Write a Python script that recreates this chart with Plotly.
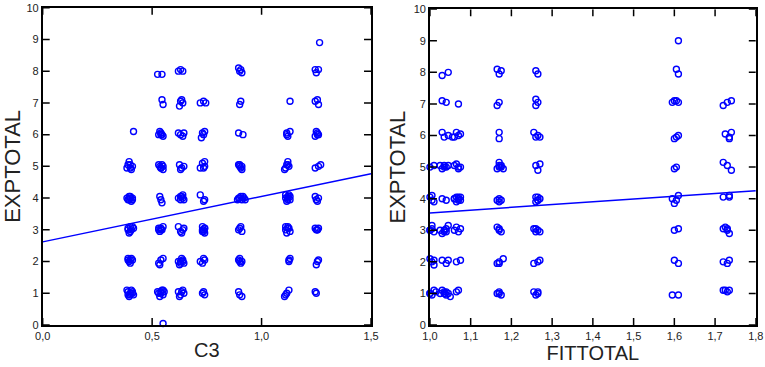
import plotly.graph_objects as go

# ---- Left panel: C3 vs EXPTOTAL (one line per cluster) ----
c3_x = [
    0.39, 0.40, 0.41, 0.395, 0.405, 0.385, 0.415, 0.40, 0.41, 0.39,
    0.39, 0.40, 0.405, 0.395, 0.41, 0.40, 0.39,
    0.39, 0.40, 0.41, 0.395, 0.405, 0.415, 0.40, 0.39,
    0.39, 0.40, 0.41, 0.395, 0.405, 0.385, 0.40, 0.41, 0.395,
    0.39, 0.40, 0.41, 0.395, 0.405, 0.385, 0.40,
    0.415,
    0.55,
    0.53, 0.54, 0.55, 0.535, 0.545, 0.555, 0.525, 0.54, 0.55,
    0.53, 0.54, 0.55, 0.535,
    0.53, 0.54, 0.55, 0.535, 0.545, 0.53, 0.54,
    0.535, 0.54, 0.545,
    0.53, 0.54, 0.55, 0.535, 0.545, 0.55, 0.54,
    0.53, 0.54, 0.55, 0.535, 0.545, 0.54,
    0.545, 0.55,
    0.525, 0.545,
    0.62, 0.63, 0.64, 0.625, 0.645, 0.635,
    0.62, 0.63, 0.64, 0.635, 0.645, 0.625, 0.63, 0.64,
    0.62, 0.63, 0.64, 0.635, 0.645,
    0.62, 0.63, 0.64, 0.635, 0.645, 0.63, 0.64,
    0.625, 0.635, 0.645, 0.63,
    0.62, 0.63, 0.64, 0.645,
    0.625, 0.635, 0.64, 0.63,
    0.62, 0.63, 0.64,
    0.73, 0.74, 0.735,
    0.72, 0.73, 0.74, 0.735,
    0.73, 0.735, 0.74, 0.73, 0.74, 0.735, 0.73, 0.74,
    0.72, 0.735, 0.74,
    0.72, 0.73, 0.74, 0.735, 0.74,
    0.725, 0.73, 0.74, 0.735,
    0.72, 0.735, 0.745,
    0.895, 0.90, 0.91,
    0.895, 0.905, 0.91, 0.90, 0.90,
    0.895, 0.905, 0.91, 0.90,
    0.89, 0.90, 0.91, 0.92, 0.925, 0.905, 0.895, 0.915,
    0.895, 0.905, 0.91, 0.90, 0.90, 0.91,
    0.895, 0.915,
    0.90, 0.905,
    0.895, 0.905, 0.91, 0.90,
    1.105, 1.115, 1.125, 1.11,
    1.125, 1.13, 1.125,
    1.11, 1.12, 1.13, 1.115, 1.125, 1.12, 1.11,
    1.11, 1.12, 1.13, 1.115, 1.125, 1.12, 1.11, 1.13, 1.12,
    1.105, 1.115, 1.125, 1.12, 1.11, 1.12,
    1.115, 1.13, 1.12, 1.115,
    1.13,
    1.245, 1.25,
    1.255, 1.26, 1.25,
    1.245, 1.255, 1.26, 1.25, 1.255,
    1.245, 1.25, 1.26, 1.255,
    1.245, 1.27, 1.26,
    1.245, 1.255, 1.26, 1.25, 1.255,
    1.245, 1.255, 1.26,
    1.245, 1.26, 1.25,
    1.265,
]
c3_y = [
    1.05, 0.95, 1.0, 0.9, 1.1, 1.1, 0.95, 1.0, 1.05, 0.95,
    2.05, 1.95, 2.1, 2.0, 2.05, 2.05, 2.1,
    3.05, 2.95, 3.1, 2.9, 3.0, 3.05, 3.1, 3.0,
    3.95, 4.0, 3.95, 4.05, 3.9, 4.0, 4.05, 4.0, 3.95,
    5.05, 4.95, 5.0, 5.15, 4.9, 4.95, 5.05,
    6.1,
    0.05,
    1.0, 1.05, 0.95, 0.9, 1.1, 1.05, 1.05, 1.0, 1.1,
    1.95, 2.05, 2.1, 1.9,
    3.0, 3.05, 3.1, 2.95, 3.0, 3.05, 3.0,
    4.05, 3.95, 3.85,
    5.05, 4.95, 4.9, 5.0, 5.05, 5.0, 4.95,
    6.0, 6.05, 5.95, 6.1, 6.0, 6.0,
    7.1, 6.95,
    7.9, 7.9,
    1.05, 0.95, 1.1, 0.9, 1.0, 1.05,
    2.0, 1.95, 2.05, 2.1, 1.95, 1.9, 2.0, 2.0,
    3.1, 2.95, 3.0, 2.9, 3.05,
    4.0, 3.95, 4.1, 4.05, 3.95, 4.05, 4.0,
    5.05, 4.95, 5.0, 4.9,
    6.05, 6.0, 5.95, 6.05,
    6.9, 7.1, 7.0, 7.05,
    8.0, 8.05, 8.0,
    1.0, 0.95, 1.05,
    2.0, 1.95, 2.05, 2.1,
    3.0, 2.95, 3.05, 3.1, 2.9, 3.0, 2.95, 3.05,
    4.1, 3.9, 3.95,
    4.95, 5.1, 5.0, 4.95, 5.15,
    5.9, 6.05, 6.1, 6.0,
    7.0, 7.05, 7.0,
    1.05, 0.95, 0.9,
    2.05, 1.95, 2.0, 2.1, 2.0,
    3.0, 3.1, 2.95, 3.05,
    3.95, 4.0, 3.95, 4.0, 3.95, 4.05, 4.0, 4.05,
    5.05, 4.95, 4.9, 5.0, 5.05, 5.0,
    6.05, 6.0,
    6.95, 7.05,
    8.1, 8.05, 7.95, 8.0,
    0.9, 1.0, 1.1, 0.95,
    2.05, 2.1, 2.0,
    3.0, 3.1, 2.95, 2.9, 3.05, 3.05, 3.1,
    4.0, 4.05, 3.95, 3.9, 4.1, 4.0, 4.1, 4.05, 3.95,
    4.9, 5.05, 5.0, 5.15, 4.95, 5.05,
    6.05, 6.1, 5.95, 6.0,
    7.05,
    1.05, 1.0,
    2.0, 2.05, 1.9,
    3.05, 3.0, 3.05, 3.0, 3.0,
    4.05, 3.95, 4.0, 3.9,
    4.95, 5.05, 5.0,
    5.95, 6.05, 6.0, 6.1, 6.0,
    7.05, 7.1, 6.95,
    8.05, 8.05, 7.95,
    8.9,
]
c3_fit_x = [0.0, 1.5]
c3_fit_y = [2.62, 4.77]

# ---- Right panel: FITTOTAL vs EXPTOTAL (one line per cluster) ----
fit_x = [
    1.0, 1.01, 1.005, 1.015, 1.0,
    1.0, 1.005, 1.01, 1.01,
    1.0, 1.005, 1.01, 1.005, 1.0,
    1.0, 1.005, 1.01, 1.005,
    1.0, 1.01,
    1.025, 1.035, 1.04, 1.045, 1.03, 1.05, 1.035, 1.04,
    1.03, 1.04, 1.045,
    1.025, 1.035, 1.04, 1.045, 1.03, 1.035, 1.04,
    1.03, 1.04,
    1.025, 1.035, 1.04, 1.045, 1.03, 1.035,
    1.03, 1.035, 1.045, 1.055,
    1.03, 1.04,
    1.03, 1.045,
    1.065, 1.07,
    1.065, 1.075,
    1.06, 1.07, 1.075, 1.065,
    1.06, 1.07, 1.075, 1.065, 1.07, 1.065, 1.075, 1.07, 1.06,
    1.06, 1.07, 1.075, 1.065, 1.07,
    1.06, 1.07, 1.075, 1.065,
    1.07,
    1.165, 1.175, 1.17, 1.17,
    1.165, 1.17, 1.18, 1.17,
    1.165, 1.17, 1.175, 1.17,
    1.165, 1.175, 1.17, 1.17,
    1.165, 1.17, 1.175, 1.18, 1.17, 1.17, 1.175,
    1.17, 1.17,
    1.165, 1.17,
    1.165, 1.175, 1.17,
    1.255, 1.265, 1.26, 1.265,
    1.255, 1.265, 1.27,
    1.255, 1.265, 1.26, 1.27, 1.26,
    1.26, 1.265, 1.27, 1.26, 1.265, 1.265,
    1.26, 1.265, 1.27,
    1.255, 1.265, 1.27, 1.26,
    1.26, 1.26, 1.265,
    1.26, 1.265,
    1.595, 1.61,
    1.60, 1.61,
    1.60, 1.61,
    1.595, 1.605, 1.61, 1.60,
    1.60, 1.605,
    1.60, 1.61, 1.605,
    1.595, 1.605, 1.61, 1.60,
    1.605, 1.61,
    1.61,
    1.72, 1.73, 1.735, 1.725,
    1.72, 1.73, 1.735,
    1.72, 1.73, 1.735, 1.725, 1.73,
    1.72, 1.735, 1.735,
    1.72, 1.73, 1.74,
    1.725, 1.735, 1.74, 1.735,
    1.72, 1.73, 1.74,
]
fit_y = [
    1.0, 1.1, 0.95, 1.05, 1.0,
    2.1, 2.0, 1.9, 2.05,
    3.0, 3.05, 2.95, 3.15, 3.0,
    4.05, 3.95, 3.9, 4.1,
    5.0, 5.05,
    1.0, 1.05, 0.95, 1.0, 1.1, 0.9, 1.0, 1.05,
    2.05, 1.95, 2.05,
    3.0, 2.95, 3.05, 3.15, 2.9, 3.0, 2.95,
    4.0, 3.95,
    5.05, 5.05, 5.0, 5.05, 4.95, 5.0,
    6.1, 5.95, 6.0, 5.95,
    7.1, 7.05,
    7.9, 8.0,
    1.05, 1.1,
    2.0, 2.05,
    3.0, 2.95, 3.05, 3.1,
    4.0, 4.05, 3.95, 3.9, 4.0, 4.05, 4.05, 3.95, 4.0,
    5.05, 4.95, 5.0, 5.1, 5.0,
    5.95, 6.0, 6.05, 6.1,
    7.0,
    1.0, 0.95, 1.05, 1.0,
    1.95, 2.0, 2.1, 1.95,
    3.1, 3.0, 2.95, 3.05,
    3.95, 3.95, 4.0, 3.9,
    4.95, 5.05, 5.0, 4.95, 5.15, 5.0, 5.05,
    6.1, 5.9,
    6.95, 7.05,
    8.1, 8.05, 7.95,
    1.05, 1.0, 0.95, 1.05,
    1.95, 2.0, 2.05,
    3.05, 3.0, 2.95, 2.95, 3.05,
    4.05, 3.95, 4.0, 3.9, 4.05, 3.95,
    5.05, 4.9, 5.1,
    6.1, 6.0, 5.95, 5.95,
    7.15, 6.95, 7.05,
    8.05, 7.95,
    0.95, 0.95,
    2.05, 1.95,
    3.0, 3.05,
    4.0, 3.95, 4.1, 3.85,
    4.95, 5.0,
    5.9, 6.0, 5.95,
    7.05, 7.1, 7.05, 7.1,
    8.1, 7.95,
    9.0,
    1.1, 1.05, 1.1, 1.1,
    2.0, 1.95, 2.05,
    3.05, 3.0, 2.9, 3.1, 3.05,
    4.05, 4.1, 4.05,
    5.15, 5.05, 4.9,
    6.05, 5.9, 6.1, 5.95,
    6.95, 7.05, 7.1,
]
fittotal_fit_x = [1.0, 1.8]
fittotal_fit_y = [3.55, 4.25]

y_ticks = list(range(0, 11))
c3_ticks = [0.0, 0.5, 1.0, 1.5]
fittotal_ticks = [1.0, 1.1, 1.2, 1.3, 1.4, 1.5, 1.6, 1.7, 1.8]

BLUE = "#0000ff"
marker = dict(symbol="circle-open", size=6, color=BLUE, line=dict(width=1.4, color=BLUE))

fig = go.Figure()
fig.add_trace(go.Scatter(x=c3_x, y=c3_y, mode="markers", marker=marker,
                         xaxis="x", yaxis="y", showlegend=False, cliponaxis=False))
fig.add_trace(go.Scatter(x=c3_fit_x, y=c3_fit_y, mode="lines",
                         line=dict(color=BLUE, width=1.5),
                         xaxis="x", yaxis="y", showlegend=False))
fig.add_trace(go.Scatter(x=fit_x, y=fit_y, mode="markers", marker=marker,
                         xaxis="x2", yaxis="y2", showlegend=False, cliponaxis=False))
fig.add_trace(go.Scatter(x=fittotal_fit_x, y=fittotal_fit_y, mode="lines",
                         line=dict(color=BLUE, width=1.5),
                         xaxis="x2", yaxis="y2", showlegend=False))


# Inside tick marks on all four sides, built from the tick arrays
def tick_marks(xt, yt, xr, yr, dx, dy):
    xs, ys = [], []
    for v in yt:
        xs += [xr[0], xr[0] + dx, None, xr[1] - dx, xr[1], None]
        ys += [v, v, None, v, v, None]
    for v in xt:
        xs += [v, v, None, v, v, None]
        ys += [yr[0], yr[0] + dy, None, yr[1] - dy, yr[1], None]
    return xs, ys


tx1, ty1 = tick_marks(c3_ticks, y_ticks, (0, 1.5), (0, 10), 0.032, 0.22)
tx2, ty2 = tick_marks(fittotal_ticks, y_ticks, (1.0, 1.8), (0, 10), 0.0172, 0.22)
for tx, ty, xa, ya in ((tx1, ty1, "x", "y"), (tx2, ty2, "x2", "y2")):
    fig.add_trace(go.Scatter(x=tx, y=ty, mode="lines", line=dict(color="black", width=1.5),
                             xaxis=xa, yaxis=ya, showlegend=False, hoverinfo="skip",
                             cliponaxis=False))

tickfont = dict(family="Liberation Sans, Arial, sans-serif", size=11, color="#222")
titlefont = dict(family="Liberation Sans, Arial, sans-serif", size=20, color="#222")
ytitlefont = dict(family="Liberation Sans, Arial, sans-serif", size=22, color="#222")

axis_common = dict(showline=True, linecolor="black", linewidth=1.5, mirror=True,
                   ticks="", showgrid=False, zeroline=False, tickfont=tickfont,
                   automargin=False)

fig.update_layout(
    template="none",
    width=765, height=367,
    margin=dict(l=0, r=0, t=0, b=0),
    paper_bgcolor="white", plot_bgcolor="white",
    separators=",.",
    xaxis=dict(domain=[0.0558, 0.485], range=[0, 1.5], tickvals=c3_ticks,
               tickformat=".1f", title=dict(text="C3", font=titlefont, standoff=2),
               anchor="y", **axis_common),
    yaxis=dict(domain=[0.1144, 0.979], range=[0, 10], tickvals=y_ticks,
               title=dict(text="EXPTOTAL", font=ytitlefont, standoff=2),
               anchor="x", **axis_common),
    xaxis2=dict(domain=[0.562, 0.988], range=[1.0, 1.8], tickvals=fittotal_ticks,
                tickformat=".1f", title=dict(text="FITTOTAL", font=titlefont, standoff=2),
                anchor="y2", **axis_common),
    yaxis2=dict(domain=[0.1144, 0.975], range=[0, 10], tickvals=y_ticks,
                title=dict(text="EXPTOTAL", font=ytitlefont, standoff=2),
                anchor="x2", **axis_common),
)

fig.write_html("out.html", config={"displayModeBar": False},
               post_script="document.body.style.margin='0';document.body.style.overflow='hidden';")
